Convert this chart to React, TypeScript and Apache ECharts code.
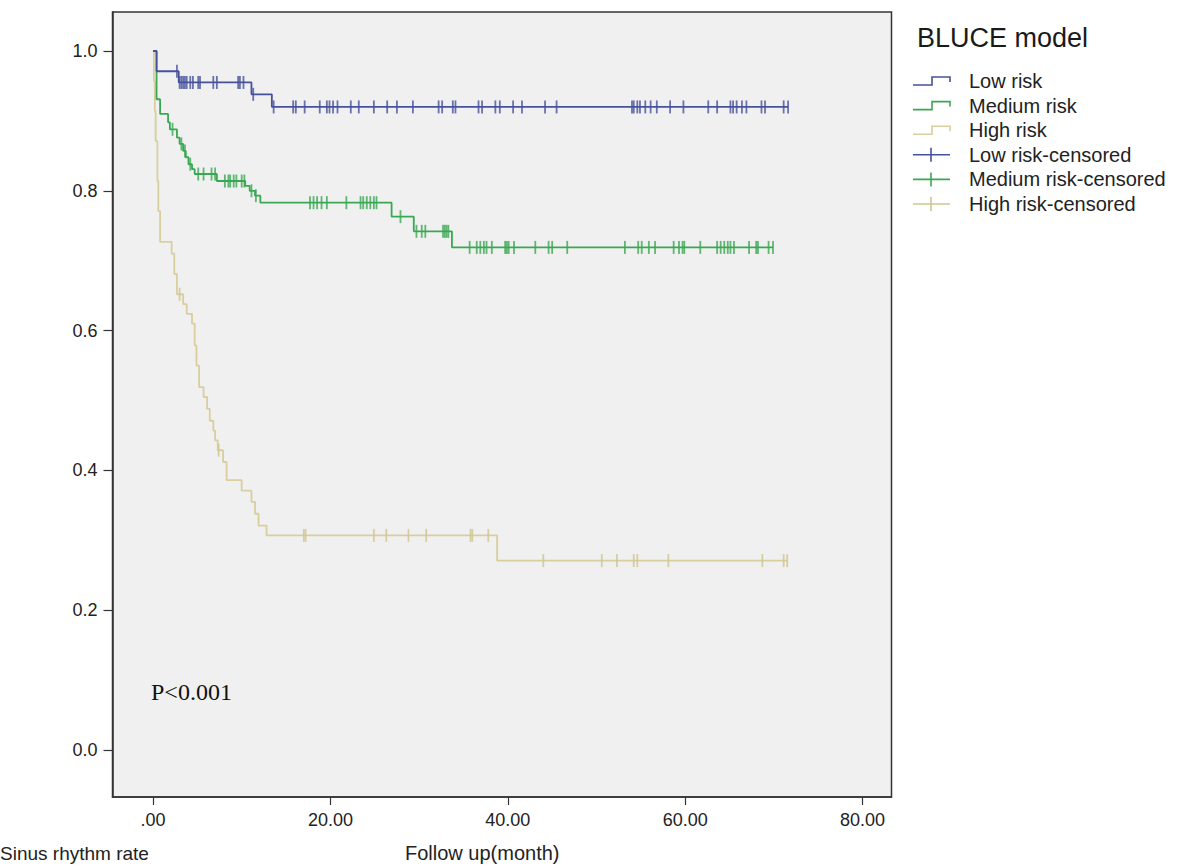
import React, { useEffect, useRef } from "react";
import * as echarts from "echarts";

// ---- Data ----
const xTicks = [0, 20, 40, 60, 80];
const yTicks = [0, 0.2, 0.4, 0.6, 0.8, 1.0];

// Low risk (Kaplan-Meier steps)
const lowTimes = [0, 0.4, 2.9, 11.1, 13.4, 71.6];
const lowSurv = [1.0, 0.971, 0.955, 0.938, 0.92, 0.92];
const lowCensored = [
  2.7, 3.0, 3.2, 3.4, 3.6, 3.8, 4.2, 4.5, 5.1, 5.3, 6.8, 7.2, 9.6, 9.8, 10.2,
  11.3, 13.6, 15.8, 16.1, 17.1, 18.8, 19.6, 19.9, 20.3, 20.8, 22.3, 23.2, 24.9,
  26.4, 27.5, 29.3, 32.2, 32.6, 33.8, 34.1, 36.7, 37.1, 38.6, 39.1, 40.6, 41.6,
  44.2, 45.5, 54.0, 54.2, 54.6, 54.9, 55.5, 56.1, 56.8, 58.3, 59.8, 62.6, 63.6,
  65.1, 65.4, 65.8, 66.4, 66.9, 68.6, 69.0, 71.1, 71.6,
];

// Medium risk
const medTimes = [
  0, 0.4, 0.8, 1.7, 1.9, 2.7, 3.0, 3.4, 3.7, 4.0, 4.4, 4.7, 7.2, 10.4, 10.9,
  11.5, 12.1, 26.9, 29.4, 33.7, 69.9,
];
const medSurv = [
  1.0, 0.931, 0.91, 0.898, 0.888, 0.876, 0.867, 0.857, 0.848, 0.838, 0.831,
  0.824, 0.814, 0.807, 0.8, 0.793, 0.783, 0.763, 0.742, 0.719, 0.719,
];
const medCensored = [
  2.2, 3.2, 3.6, 4.2, 5.1, 5.7, 6.6, 7.0, 8.1, 8.5, 8.7, 9.1, 9.4, 10.0, 10.3,
  11.1, 11.6, 17.7, 18.1, 18.5, 19.0, 19.6, 21.8, 23.4, 23.7, 24.1, 24.5, 24.9,
  25.2, 27.9, 29.7, 30.3, 30.7, 32.7, 32.9, 33.1, 33.3, 35.7, 36.5, 36.9, 37.3,
  37.6, 38.2, 39.7, 39.9, 40.1, 40.7, 43.1, 44.6, 45.0, 46.7, 53.2, 54.7, 55.1,
  55.9, 56.6, 58.7, 59.3, 59.7, 59.9, 61.7, 63.6, 64.0, 64.4, 64.8, 65.1, 65.5,
  67.2, 68.0, 68.2, 69.4, 69.9,
];

// High risk
const highTimes = [
  0, 0.1, 0.2, 0.3, 0.5, 0.6, 0.8, 2.1, 2.4, 2.7, 3.4, 3.8, 4.4, 4.7, 4.9, 5.2,
  5.7, 6.1, 6.4, 6.8, 7.0, 7.3, 7.9, 8.3, 10.0, 11.1, 11.5, 11.9, 12.8, 38.8,
  71.5,
];
const highSurv = [
  1.0, 0.957, 0.914, 0.871, 0.814, 0.771, 0.727, 0.71, 0.681, 0.652, 0.638,
  0.624, 0.61, 0.579, 0.55, 0.519, 0.505, 0.488, 0.471, 0.457, 0.443, 0.429,
  0.412, 0.386, 0.371, 0.355, 0.338, 0.321, 0.307, 0.271, 0.271,
];
const highCensored = [
  3.0, 7.4, 17.0, 17.2, 24.9, 26.3, 28.8, 30.8, 35.8, 36.0, 37.8, 44.0, 50.6,
  52.3, 54.2, 54.6, 58.1, 68.7, 71.1, 71.5,
];

const seriesNames = ["Low risk", "Medium risk", "High risk"];
const legendLabels = [
  "Low risk",
  "Medium risk",
  "High risk",
  "Low risk-censored",
  "Medium risk-censored",
  "High risk-censored",
];
const colors = ["#46519c", "#3aa853", "#d8ce9e"];
const censorColors = ["#46519c", "#3aa853", "#d0c690"];

function survAt(times: number[], surv: number[], t: number) {
  let s = surv[0];
  for (let i = 0; i < times.length; i++) {
    if (times[i] <= t) s = surv[i];
  }
  return s;
}

// pixel geometry of the plot frame
const FRAME_L = 112.5;
const FRAME_R = 891.5;
const FRAME_T = 12;
const FRAME_B = 797;
const X0_PX = 153;
const X80_PX = 862.6;
const Y1_PX = 51;
const Y0_PX = 750;

export default function App() {
  const ref = useRef<HTMLDivElement>(null);

  useEffect(() => {
    if (!ref.current) return;
    const chart = echarts.init(ref.current, null, { renderer: "svg" });

    const pxPerX = (X80_PX - X0_PX) / 80;
    const pxPerY = Y0_PX - Y1_PX;
    const xMin = (FRAME_L - X0_PX) / pxPerX;
    const xMax = (FRAME_R - X0_PX) / pxPerX;
    const yMin = -(FRAME_B - Y0_PX) / pxPerY;
    const yMax = 1 + (Y1_PX - FRAME_T) / pxPerY;

    const groups = [
      { t: lowTimes, s: lowSurv, c: lowCensored },
      { t: medTimes, s: medSurv, c: medCensored },
      { t: highTimes, s: highSurv, c: highCensored },
    ];

    const series: any[] = [];
    groups.forEach((g, i) => {
      series.push({
        name: seriesNames[i],
        type: "line",
        step: "end",
        showSymbol: false,
        clip: false,
        data: g.t.map((t, k) => [t, g.s[k]]),
        lineStyle: { color: colors[i], width: 1.8 },
        z: 3 - i + 2,
      });
      series.push({
        name: seriesNames[i] + "-censored",
        type: "scatter",
        symbol: "rect",
        symbolSize: [1.8, 13],
        clip: false,
        data: g.c.map((t) => [t, survAt(g.t, g.s, t)]),
        itemStyle: { color: censorColors[i] },
        z: 3 - i + 2,
      });
    });

    const legendX0 = 913;
    const legendTextX = 969;
    const rowY = (i: number) => 81 + 24.6 * i;
    const legendGraphics: any[] = [];
    legendLabels.forEach((lab, i) => {
      const y = rowY(i);
      const ci = i % 3;
      if (i < 3) {
        legendGraphics.push({
          type: "polyline",
          shape: {
            points: [
              [legendX0, y + 4],
              [legendX0 + 19, y + 4],
              [legendX0 + 19, y - 4],
              [legendX0 + 37, y - 4],
              [legendX0 + 37, y + 1],
            ],
          },
          style: { stroke: colors[ci], lineWidth: 1.6, fill: "none" },
        });
      } else {
        legendGraphics.push({
          type: "line",
          shape: { x1: legendX0, y1: y, x2: legendX0 + 37, y2: y },
          style: { stroke: censorColors[ci], lineWidth: 1.6 },
        });
        legendGraphics.push({
          type: "line",
          shape: { x1: legendX0 + 18, y1: y - 7, x2: legendX0 + 18, y2: y + 7 },
          style: { stroke: censorColors[ci], lineWidth: 1.6 },
        });
      }
      legendGraphics.push({
        type: "text",
        x: legendTextX,
        y: y,
        style: {
          text: lab,
          fill: "#222",
          font: '20px "Liberation Sans", Arial, sans-serif',
          verticalAlign: "middle",
        },
      });
    });

    chart.setOption({
      animation: false,
      backgroundColor: "#ffffff",
      grid: {
        left: FRAME_L,
        right: 1184 - FRAME_R,
        top: FRAME_T,
        bottom: 865 - FRAME_B,
        show: true,
        backgroundColor: "#f0f0f0",
        borderColor: "#333",
        borderWidth: 1.5,
      },
      xAxis: {
        type: "value",
        min: xMin,
        max: xMax,
        axisLine: { show: true, onZero: false, lineStyle: { color: "#333", width: 1.5 } },
        axisTick: {
          show: true,
          length: 8,
          customValues: xTicks,
          lineStyle: { color: "#333", width: 1.2 },
        },
        splitLine: { show: false },
        axisLabel: {
          customValues: xTicks,
          margin: 14,
          color: "#222",
          fontSize: 18,
          fontFamily: '"Liberation Sans", Arial, sans-serif',
          formatter: (v: number) => (v === 0 ? ".00" : v.toFixed(2)),
        },
      },
      yAxis: {
        type: "value",
        min: yMin,
        max: yMax,
        axisLine: { show: true, onZero: false, lineStyle: { color: "#333", width: 1.5 } },
        axisTick: {
          show: true,
          length: 9,
          customValues: yTicks,
          lineStyle: { color: "#333", width: 1.2 },
        },
        splitLine: { show: false },
        axisLabel: {
          customValues: yTicks,
          margin: 15,
          color: "#222",
          fontSize: 18,
          fontFamily: '"Liberation Sans", Arial, sans-serif',
          formatter: (v: number) => v.toFixed(1),
        },
      },
      graphic: [
        {
          type: "text",
          x: 151,
          y: 692,
          style: {
            text: "P<0.001",
            fill: "#111",
            font: '24px "Liberation Serif", "Times New Roman", serif',
            verticalAlign: "middle",
          },
        },
        {
          type: "text",
          x: 917,
          y: 38,
          style: {
            text: "BLUCE model",
            fill: "#1a1a1a",
            font: '27px "Liberation Sans", Arial, sans-serif',
            verticalAlign: "middle",
          },
        },
        {
          type: "text",
          x: 0,
          y: 853,
          style: {
            text: "Sinus rhythm rate",
            fill: "#222",
            font: '19px "Liberation Sans", Arial, sans-serif',
            verticalAlign: "middle",
          },
        },
        {
          type: "text",
          x: 405,
          y: 853,
          style: {
            text: "Follow up(month)",
            fill: "#222",
            font: '20px "Liberation Sans", Arial, sans-serif',
            verticalAlign: "middle",
          },
        },
        ...legendGraphics,
      ],
      series,
    });

    return () => chart.dispose();
  }, []);

  return (
    <div
      ref={ref}
      style={{ position: "fixed", left: 0, top: 0, width: 1184, height: 865 }}
    />
  );
}
